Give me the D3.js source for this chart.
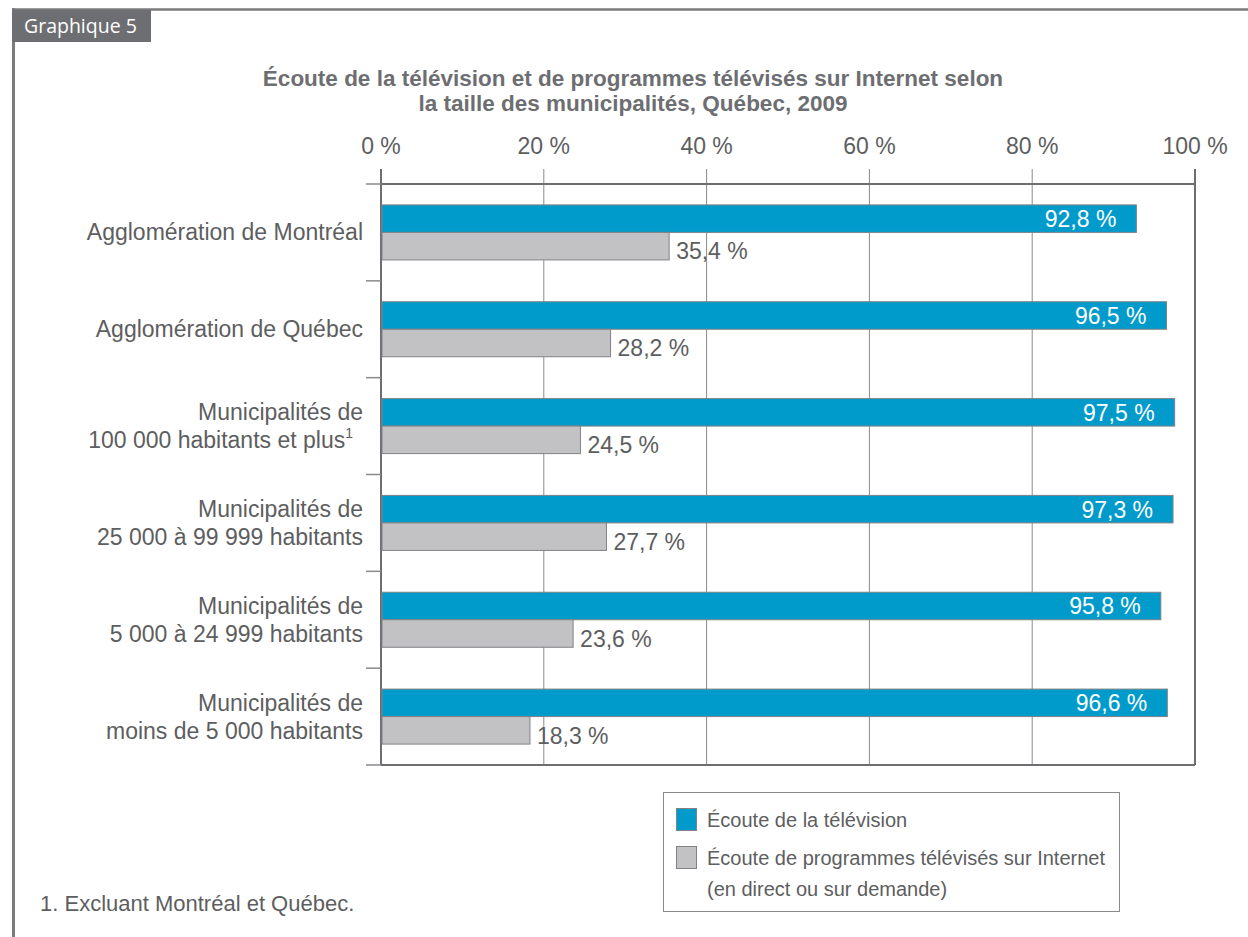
<!DOCTYPE html>
<html>
<head>
<meta charset="utf-8">
<script src="https://cdn.jsdelivr.net/npm/d3@7"></script>
<style>
  body { margin: 0; background: #fff; }
  svg text { font-family: "Liberation Sans", Arial, sans-serif; }
</style>
</head>
<body>
<svg id="chart" width="1248" height="937"></svg>
<script>
// categories (each label may span two lines)
const categories = [
  ["Agglomération de Montréal"],
  ["Agglomération de Québec"],
  ["Municipalités de", "100 000 habitants et plus"],
  ["Municipalités de", "25 000 à 99 999 habitants"],
  ["Municipalités de", "5 000 à 24 999 habitants"],
  ["Municipalités de", "moins de 5 000 habitants"]
];
const seriesNames = ["Écoute de la télévision", "Écoute de programmes télévisés sur Internet"];
const television = [92.8, 96.5, 97.5, 97.3, 95.8, 96.6];
const internet = [35.4, 28.2, 24.5, 27.7, 23.6, 18.3];
const xTicks = [0, 20, 40, 60, 80, 100];

const svg = d3.select("#chart");
const grey = "#6d6e71";
const textCol = "#5d5e60";
const colors = ["#009bcb", "#c2c2c4"];

// outer frame + tab
svg.append("line").attr("x1", 12).attr("x2", 1248).attr("y1", 9.5).attr("y2", 9.5)
  .attr("stroke", "#7b7b7d").attr("stroke-width", 2.5);
svg.append("line").attr("x1", 13.5).attr("x2", 13.5).attr("y1", 8).attr("y2", 937)
  .attr("stroke", "#7b7b7d").attr("stroke-width", 3);
svg.append("rect").attr("x", 12).attr("y", 10).attr("width", 139).attr("height", 32).attr("fill", grey);
svg.append("text").attr("x", 24).attr("y", 33).text("Graphique 5")
  .attr("fill", "#fff").style("font-family", "'Open Sans', sans-serif").style("font-size", "19.5px");

// title
const title = svg.append("text").attr("text-anchor", "middle")
  .attr("fill", grey).style("font-weight", "bold").style("font-size", "22.5px");
title.append("tspan").attr("x", 633).attr("y", 86).text("Écoute de la télévision et de programmes télévisés sur Internet selon");
title.append("tspan").attr("x", 633).attr("y", 111).text("la taille des municipalités, Québec, 2009");

const pLeft = 381, pRight = 1195, pTop = 184, pBottom = 765;
const x = d3.scaleLinear().domain([0, 100]).range([pLeft, pRight]);
const y = d3.scaleBand().domain(d3.range(categories.length)).range([pTop, pBottom]);
const ySub = d3.scaleBand().domain([0, 1]).range([0, y.bandwidth()]).paddingOuter(0.76);

// gridlines and top ticks
svg.append("g").selectAll("line").data(xTicks.slice(1, -1)).join("line")
  .attr("x1", d => x(d)).attr("x2", d => x(d)).attr("y1", pTop - 15).attr("y2", pBottom)
  .attr("stroke", "#8a8a8c").attr("stroke-width", 1);
svg.append("g").selectAll("line").data([0, 100]).join("line")
  .attr("x1", d => x(d)).attr("x2", d => x(d)).attr("y1", pTop - 15).attr("y2", pBottom)
  .attr("stroke", grey).attr("stroke-width", 2);

// top axis labels
svg.append("g").selectAll("text").data(xTicks).join("text")
  .attr("x", d => x(d)).attr("y", 154).attr("text-anchor", "middle")
  .attr("fill", textCol).style("font-size", "23px")
  .text(d => d + "\u00a0%");

// left ticks at band edges
const edges = d3.range(categories.length + 1).map(i => pTop + i * y.step());
svg.append("g").selectAll("line").data(edges).join("line")
  .attr("x1", pLeft - 15).attr("x2", pLeft).attr("y1", d => d).attr("y2", d => d)
  .attr("stroke", "#8a8a8c").attr("stroke-width", 1.5);
svg.append("g").selectAll("line").data([pTop, pBottom]).join("line")
  .attr("x1", pLeft).attr("x2", pRight).attr("y1", d => d).attr("y2", d => d)
  .attr("stroke", grey).attr("stroke-width", 2);

// bars
const fmt = v => d3.format(".1f")(v).replace(".", ",") + "\u00a0%";
[television, internet].forEach((vals, s) => {
  const g = svg.append("g");
  g.selectAll("rect").data(vals).join("rect")
    .attr("x", pLeft + 1).attr("y", (d, i) => y(i) + ySub(s))
    .attr("width", d => x(d) - pLeft - 1).attr("height", ySub.bandwidth())
    .attr("fill", colors[s]).attr("stroke", "#808285").attr("stroke-width", 1);
  g.selectAll("text").data(vals).join("text")
    .attr("x", d => s === 0 ? x(d) - 20 : x(d) + 7)
    .attr("y", (d, i) => y(i) + ySub(s) + (s === 0 ? ySub.bandwidth() / 2 + 8.5 : ySub.bandwidth() - 0.5))
    .attr("text-anchor", s === 0 ? "end" : "start")
    .attr("fill", s === 0 ? "#fff" : textCol).style("font-size", "23px")
    .text(fmt);
});

// category labels
const cat = svg.append("g").selectAll("text").data(categories).join("text")
  .attr("text-anchor", "end").attr("fill", textCol).style("font-size", "23px");
cat.each(function(lines, i) {
  const t = d3.select(this);
  const cy = y(i) + y.bandwidth() / 2;
  lines.forEach((ln, k) => {
    t.append("tspan").attr("x", i === 2 && k === 1 ? 353 : 363)
      .attr("y", cy + 8 + (k - (lines.length - 1) / 2) * 28).text(ln);
  });
  if (i === 2) {
    t.append("tspan").attr("dy", -10).style("font-size", "14px").text("1");
  }
});

// legend
svg.append("rect").attr("x", 663.5).attr("y", 792.5).attr("width", 456).attr("height", 119)
  .attr("fill", "none").attr("stroke", "#8a8a8c").attr("stroke-width", 1);
const legendRows = [[seriesNames[0]], ["Écoute de programmes télévisés sur Internet", "(en direct ou sur demande)"]];
legendRows.forEach((lines, s) => {
  svg.append("rect").attr("x", 676.5).attr("y", 808.5 + s * 38).attr("width", 20).attr("height", 22)
    .attr("fill", colors[s]).attr("stroke", "#808285").attr("stroke-width", 1);
  lines.forEach((ln, k) => {
    svg.append("text").attr("x", 707).attr("y", 827 + s * 38 + k * 31)
      .attr("fill", textCol).style("font-size", "20px").text(ln);
  });
});

// footnote
svg.append("text").attr("x", 40).attr("y", 911).attr("fill", textCol)
  .style("font-size", "22px").text("1. Excluant Montréal et Québec.");
</script>
</body>
</html>
